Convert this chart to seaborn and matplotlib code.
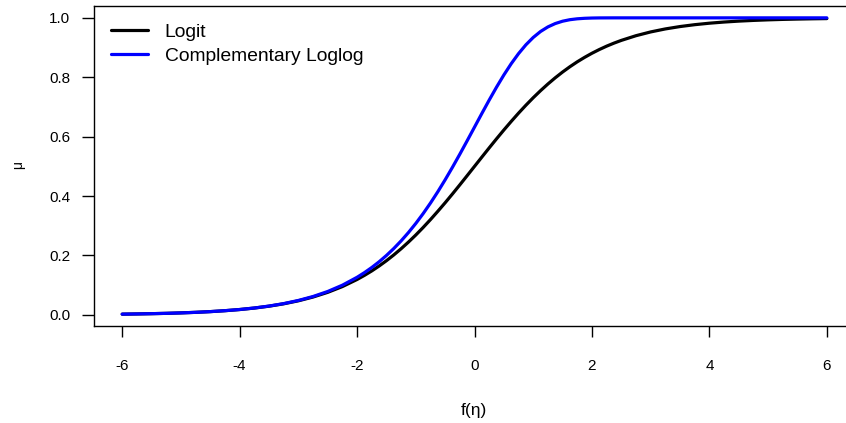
import matplotlib
matplotlib.use("Agg")
import matplotlib.pyplot as plt
from matplotlib.lines import Line2D
import seaborn as sns
import pandas as pd

# ---- data ----
eta = [-6.0, -5.75, -5.5, -5.25, -5.0, -4.75, -4.5, -4.25, -4.0, -3.75, -3.5, -3.25,
       -3.0, -2.75, -2.5, -2.25,
       -2.0, -1.875, -1.75, -1.625, -1.5, -1.375, -1.25, -1.125, -1.0,
       -0.875, -0.75, -0.625, -0.5, -0.375, -0.25, -0.125, 0.0,
       0.125, 0.25, 0.375, 0.5, 0.625, 0.75, 0.875, 1.0,
       1.125, 1.25, 1.375, 1.5, 1.625, 1.75, 1.875, 2.0,
       2.125, 2.25, 2.375, 2.5,
       2.75, 3.0, 3.25, 3.5, 3.75, 4.0, 4.25, 4.5, 4.75, 5.0, 5.25, 5.5, 5.75, 6.0]
mu_logit = [0.0025, 0.0032, 0.0041, 0.0052, 0.0067, 0.0086, 0.0110, 0.0141, 0.0180,
            0.0230, 0.0293, 0.0373, 0.0474, 0.0601, 0.0759, 0.0953,
            0.1192, 0.1330, 0.1480, 0.1645, 0.1824, 0.2018, 0.2227, 0.2451, 0.2689,
            0.2942, 0.3208, 0.3487, 0.3775, 0.4073, 0.4378, 0.4688, 0.5000,
            0.5312, 0.5622, 0.5927, 0.6225, 0.6513, 0.6792, 0.7058, 0.7311,
            0.7549, 0.7773, 0.7982, 0.8176, 0.8355, 0.8520, 0.8670, 0.8808,
            0.8933, 0.9047, 0.9149, 0.9241,
            0.9399, 0.9526, 0.9627, 0.9707, 0.9770, 0.9820, 0.9859, 0.9890, 0.9914,
            0.9933, 0.9948, 0.9959, 0.9968, 0.9975]
mu_cloglog = [0.0025, 0.0032, 0.0041, 0.0052, 0.0067, 0.0086, 0.0110, 0.0142, 0.0181,
              0.0232, 0.0297, 0.0380, 0.0486, 0.0619, 0.0788, 0.1000,
              0.1266, 0.1422, 0.1595, 0.1787, 0.2000, 0.2234, 0.2491, 0.2772, 0.3078,
              0.3409, 0.3765, 0.4145, 0.4548, 0.4971, 0.5410, 0.5862, 0.6321,
              0.6780, 0.7231, 0.7666, 0.8077, 0.8456, 0.8796, 0.9092, 0.9340,
              0.9541, 0.9695, 0.9808, 0.9887, 0.9938, 0.9968, 0.9985, 0.9994,
              0.9998, 0.9999, 1.0000, 1.0000,
              1.0000, 1.0000, 1.0000, 1.0000, 1.0000, 1.0000, 1.0000, 1.0000, 1.0000,
              1.0000, 1.0000, 1.0000, 1.0000, 1.0000]
series_names = ["Logit", "Complementary Loglog"]
series_colors = ["#000000", "#0000FF"]
x_ticks = [-6, -4, -2, 0, 2, 4, 6]
y_ticks = [0.0, 0.2, 0.4, 0.6, 0.8, 1.0]

df = pd.concat([
    pd.DataFrame({"eta": eta, "mu": mu_logit, "link": series_names[0]}),
    pd.DataFrame({"eta": eta, "mu": mu_cloglog, "link": series_names[1]}),
], ignore_index=True)

sns.set_style("ticks")
plt.rcParams["font.family"] = ["Liberation Sans", "DejaVu Sans"]
plt.rcParams["axes.unicode_minus"] = False
plt.rcParams["text.color"] = "black"
plt.rcParams["axes.labelcolor"] = "black"
plt.rcParams["xtick.color"] = "black"
plt.rcParams["ytick.color"] = "black"

fig = plt.figure(figsize=(8.46, 4.23), dpi=100)
W, H = 846, 423
ax = fig.add_axes([94 / W, (H - 326) / H, (855 - 94) / W, (326 - 6) / H])

sns.lineplot(data=df, x="eta", y="mu", hue="link", hue_order=series_names,
             palette=series_colors, linewidth=2.3, ax=ax, legend=False,
             sort=True, estimator=None)
for ln in ax.get_lines():
    ln.set_solid_joinstyle("round")
    ln.set_solid_capstyle("round")

ax.set_xlim(-6.48, 6.48)
ax.set_ylim(-0.0374, 1.0399)
ax.set_xticks(x_ticks)
ax.set_xticklabels([str(t) for t in x_ticks])
ax.set_yticks(y_ticks)
ax.set_yticklabels([f"{t:.1f}" for t in y_ticks])

for s in ax.spines.values():
    s.set_visible(True)
    s.set_linewidth(1.0)
    s.set_color("black")

ax.tick_params(axis="y", direction="out", length=8.6, width=1.0, pad=8.6,
               labelsize=11, colors="black")
ax.tick_params(axis="x", direction="out", length=8.0, width=1.0, pad=16,
               labelsize=11, colors="black")

ax.set_xlabel("f(η)", fontsize=12.5, color="black")
ax.set_ylabel("μ", fontsize=10, color="black")
ax.xaxis.set_label_coords(0.4993, -0.263)
ax.xaxis.label.set_va("center")
ax.yaxis.set_label_coords(-0.0999, 0.504)
ax.yaxis.label.set_va("center")

handles = [Line2D([0], [0], color=c, lw=2.3) for c in series_colors]
leg = ax.legend(handles, series_names, loc="upper left", bbox_to_anchor=(0.0223, 0.946),
                frameon=False, fontsize=13.9, handlelength=1.9, handletextpad=0.88,
                borderpad=0, borderaxespad=0, labelspacing=0.33)
for t in leg.get_texts():
    t.set_color("black")

fig.savefig("out.png", dpi=100)
